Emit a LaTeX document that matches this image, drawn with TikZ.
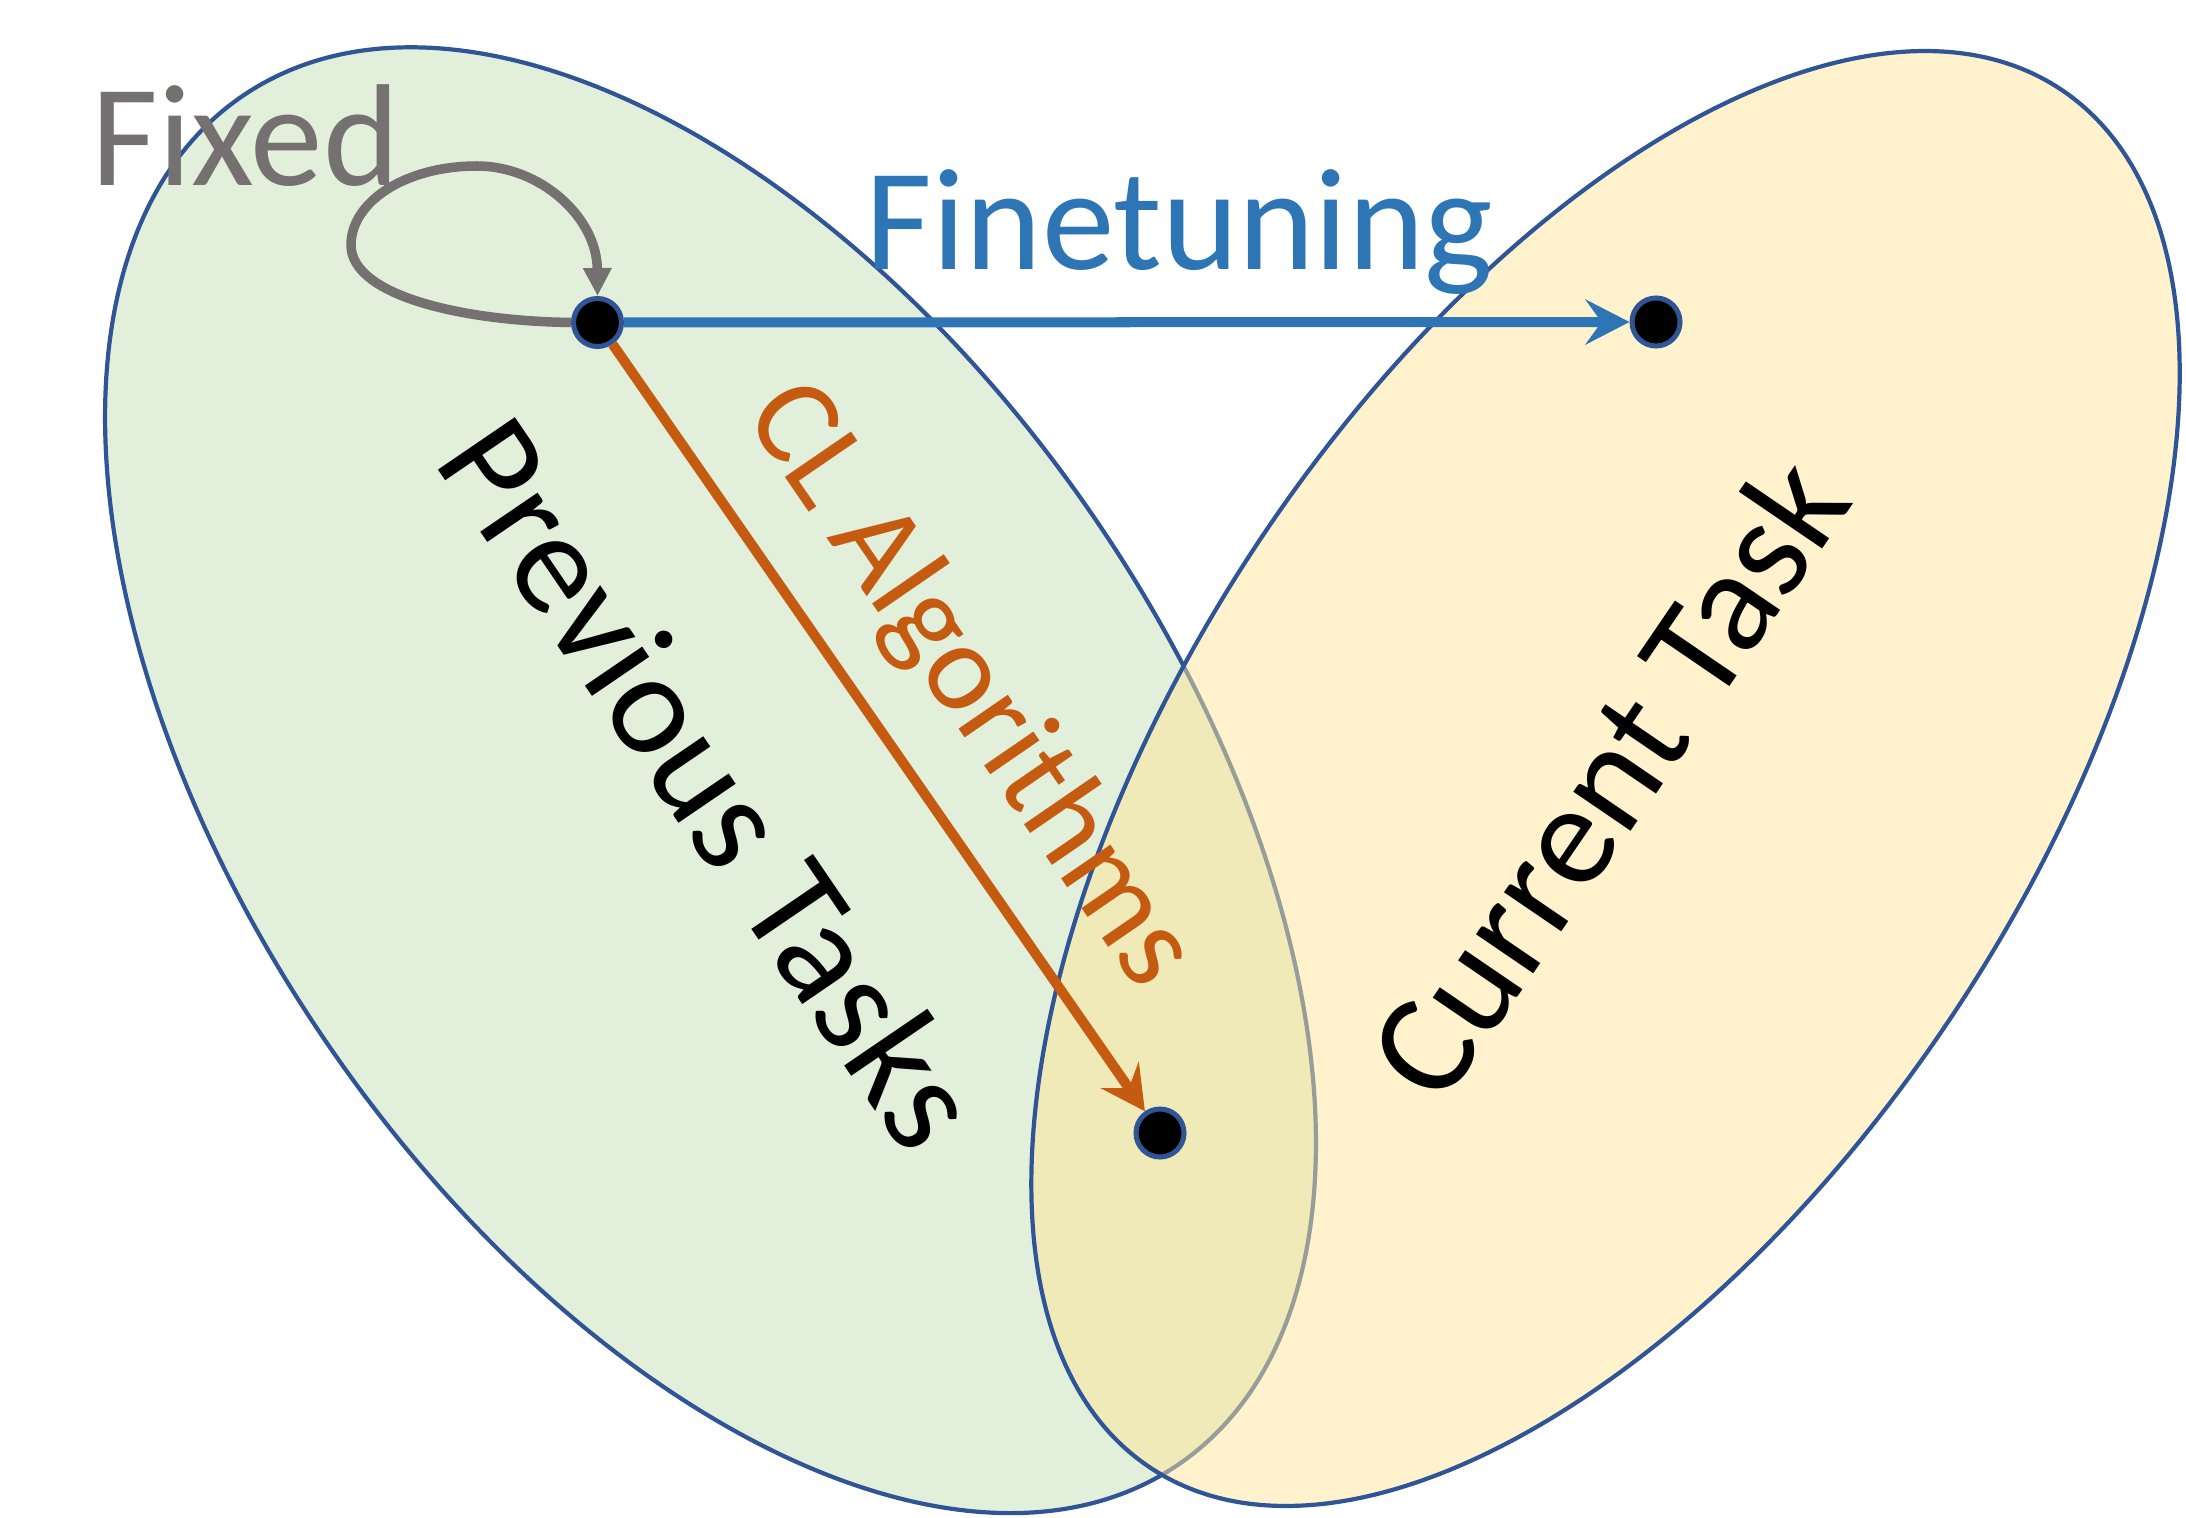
\documentclass[tikz,border=0pt]{standalone}
\usepackage{fontspec}
\setmainfont{Carlito}
\usepackage{tikz}
\usetikzlibrary{arrows.meta}

\definecolor{edgeblue}{HTML}{2F5597}
\definecolor{prevgreen}{HTML}{E2EFDA}
\definecolor{curryellow}{HTML}{FFE699}
\definecolor{fixgray}{HTML}{767171}
\definecolor{ftblue}{HTML}{2E75B6}
\definecolor{clorange}{HTML}{C55A11}

\begin{document}
\begin{tikzpicture}[x=0.01cm, y=0.01cm,
  pt/.style={draw=edgeblue, fill=black, circle, line width=0.05cm, minimum size=0.48cm, inner sep=0pt},
  txt/.style={inner sep=0pt, anchor=base, font=\fontsize{41.3pt}{49pt}\selectfont}]

\useasboundingbox (0,0) rectangle (2186,1517);

% TASK REGIONS

% previous tasks
\draw[edgeblue, line width=0.042cm, fill=prevgreen, rotate around={-55.6:(710.5,736.8)}]
  (710.5,736.8) ellipse [x radius=829, y radius=465];

% current task
\draw[edgeblue, line width=0.042cm, fill=curryellow, fill opacity=0.5, rotate around={56.6:(1605.5,738.5)}]
  (1605.5,738.5) ellipse [x radius=826, y radius=420];

% region names
\node[txt, rotate=-55.7] (prev) at (670.5,706.4) {Previous Tasks};
\node[txt, rotate=55.7] (curr) at (1648.3,712) {Current Task};


% PARAMETERS

\node[pt] (p0) at (597.5,1194.5) {};
\node[pt] (pft) at (1656,1195) {};
\node[pt] (pcl) at (1160,384) {};


% UPDATES

% fixed
\draw[fixgray, line width=0.095cm, -{Triangle[length=0.28cm, width=0.27cm]}]
  (p0.west) .. controls (460,1196) and (351,1222) .. (351,1272)
  .. controls (351,1315) and (405,1351) .. (477,1351)
  .. controls (540,1351) and (597,1300) .. (p0.north);
\node[txt, text=fixgray] (fixed) at (245.5,1331) {Fixed};

% finetuning
\draw[ftblue, line width=0.1cm, -{Stealth[length=0.44cm, width=0.45cm, inset=0.16cm]}] (p0) -- (pft);
\node[txt, text=ftblue] (ft) at (1179.5,1247) {Finetuning};

% cl algorithms
\draw[clorange, line width=0.1cm, -{Stealth[length=0.44cm, width=0.46cm, inset=0.16cm]}] (p0) -- (pcl);
\node[txt, text=clorange, rotate=-55.5, font=\fontsize{35.6pt}{42pt}\selectfont] (cl) at (941.9,812.2) {CL Algorithms};

\end{tikzpicture}
\end{document}
